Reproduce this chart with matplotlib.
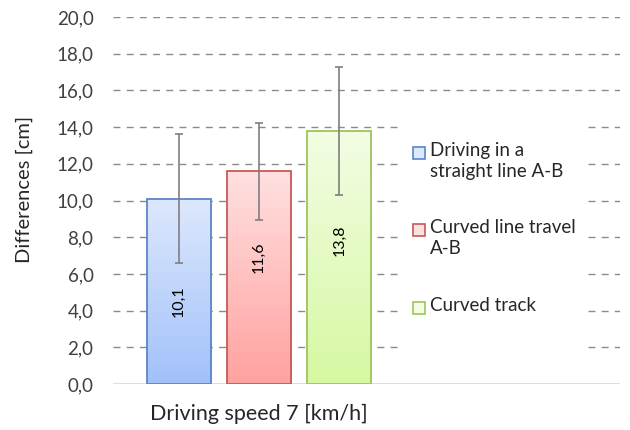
import numpy as np
import matplotlib
matplotlib.use("Agg")
import matplotlib.pyplot as plt
from matplotlib.patches import Rectangle

plt.rcParams['font.family'] = ['Lato', 'DejaVu Sans']

# Data
category = "Driving speed 7 [km/h]"
series = ["Driving in a\nstraight line A-B", "Curved line travel\nA-B", "Curved track"]
values = [10.1, 11.6, 13.8]
errors = [3.5, 2.65, 3.5]
value_labels = ["10,1", "11,6", "13,8"]
y_ticks = [0, 2, 4, 6, 8, 10, 12, 14, 16, 18, 20]

# gradient colours (top, bottom) and edge
tops = ["#dde8fd", "#ffe0e0", "#f3fde4"]
bottoms = ["#a2c1fa", "#ffa2a0", "#d6f8a2"]
edges = ["#5a86c6", "#c55a57", "#9fc35e"]

fig = plt.figure(figsize=(6.3, 4.3), dpi=100)
ax = fig.add_axes([113 / 630, 46 / 430, 507 / 630, 367 / 430])

x = np.arange(len(values))
width = 0.8
ax.set_xlim(-0.825, 5.51)
ax.set_ylim(0, 20)

# grid
for t in y_ticks[1:]:
    ax.axhline(t, color="#8a8a8a", lw=1.0, ls=(0, (5, 4.5)), zorder=0)
ax.axhline(0, color="#d9d9d9", lw=1.2, zorder=1)

# where excel put the rotated value labels
label_pos = [4.5, 6.9, 7.85]

bars = ax.bar(x, values, width=width, color="none", edgecolor="none", zorder=2)
for i, b in enumerate(bars):
    c1 = np.array(matplotlib.colors.to_rgb(tops[i]))
    c2 = np.array(matplotlib.colors.to_rgb(bottoms[i]))
    t = np.linspace(0, 1, 100)[:, None]
    grad = (c1 * (1 - t) + c2 * t)[:, None, :]
    im = ax.imshow(grad, extent=[b.get_x(), b.get_x() + width, 0, values[i]],
                   aspect="auto", origin="upper", zorder=2)
    im.set_clip_path(b)
    ax.add_patch(Rectangle((b.get_x(), 0), width, values[i], fill=False,
                           edgecolor=edges[i], lw=1.3, zorder=3))
    ax.text(x[i], label_pos[i], value_labels[i], rotation=90, ha="center", va="center",
            fontsize=11.5, color="#000000", zorder=5)

ax.errorbar(x, values, yerr=errors, fmt="none", ecolor="#7f7f7f", elinewidth=1.2,
            capsize=3, capthick=1.2, zorder=4)

ax.set_yticks(y_ticks)
ax.set_yticklabels([("%.1f" % v).replace(".", ",") for v in y_ticks], fontsize=13.5, color="#404040")
ax.set_xticks([1])
ax.set_xticklabels([category], fontsize=15.5, color="#262626")
ax.tick_params(axis="x", length=0, pad=14)
ax.tick_params(axis="y", length=0, pad=14)
ax.set_ylabel("Differences [cm]", fontsize=14.5, color="#262626")
ax.yaxis.set_label_coords(-0.158, 0.531)
for s in ax.spines.values():
    s.set_visible(False)

# legend (drawn by hand so the marker sits on the first line)
ax.add_patch(Rectangle((400, 430 - 360), 185, 255, transform=None, facecolor="white",
                       edgecolor="none", zorder=6))
leg_y = [153, 230, 308]
for i, lab in enumerate(series):
    yy = 430 - leg_y[i]
    ax.add_patch(Rectangle((413, yy - 6), 12, 12, transform=None, facecolor=tops[i],
                           edgecolor=edges[i], lw=1.2, zorder=7))
    fig.text(430 / 630, (yy + 11) / 430, lab, fontsize=13.5, color="#262626",
             ha="left", va="top", linespacing=1.3, zorder=8)

fig.savefig("out.png", dpi=100)
